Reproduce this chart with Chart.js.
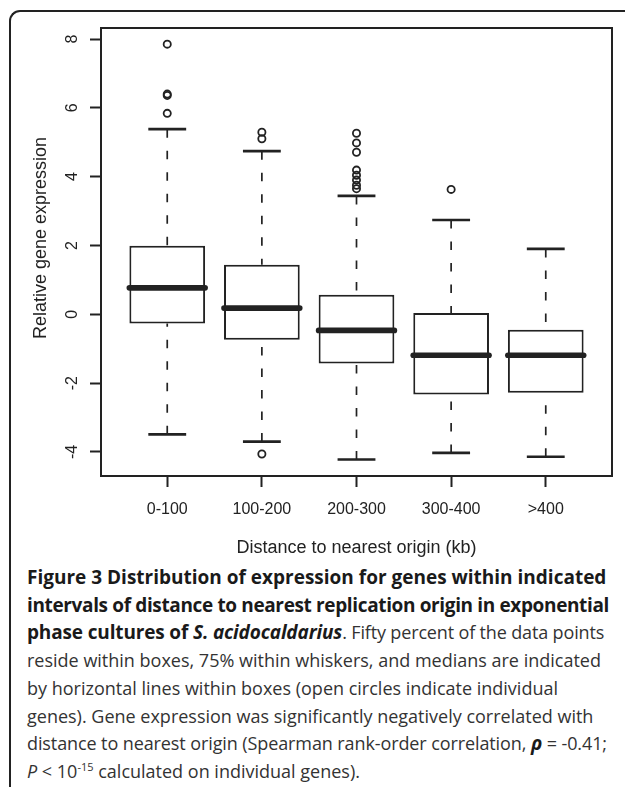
<!DOCTYPE html>
<html>
<head>
<meta charset="utf-8">
<script src="https://cdn.jsdelivr.net/npm/chart.js@4/dist/chart.umd.min.js"></script>
<style>
  html, body { margin: 0; padding: 0; background: #fff; }
  body { width: 625px; height: 787px; position: relative; overflow: hidden; }
  #card { position: absolute; left: 9px; top: 10px; width: 700px; height: 820px;
          border-left: 2px solid #222; border-top: 2px solid #222; border-top-left-radius: 11px; }
  #boxes { position: absolute; left: 0; top: 0; }
  #caption { position: absolute; left: 27px; top: 564px; width: 600px;
             font-family: "Open Sans", sans-serif; font-size: 18px; line-height: 27.7px;
             color: #333; white-space: nowrap; }
  #caption b { color: #1a1a1a; font-size: 19px; line-height: 1; }
  #caption sup { font-size: 11px; vertical-align: 7px; line-height: 0; }
</style>
</head>
<body>
<div id="card"></div>
<canvas id="boxes" width="625" height="560"></canvas>
<div id="caption">
<b>Figure 3 Distribution of expression for genes within indicated</b><br>
<b style="letter-spacing:-0.36px">intervals of distance to nearest replication origin in exponential</b><br>
<span style="letter-spacing:-0.15px"><b>phase cultures of <i>S. acidocaldarius</i></b>. Fifty percent of the data points</span><br>
reside within boxes, 75% within whiskers, and medians are indicated<br>
by horizontal lines within boxes (open circles indicate individual<br>
genes). Gene expression was significantly negatively correlated with<br>
<span style="letter-spacing:-0.1px">distance to nearest origin (Spearman rank-order correlation, <b><i>&rho;</i></b> = -0.41;</span><br>
<i>P</i> &lt; 10<sup>-15</sup> calculated on individual genes).
</div>
<script>
// values
var categories = ["0-100", "100-200", "200-300", "300-400", ">400"];
var lowWhisker = [-3.49, -3.70, -4.22, -4.03, -4.14];
var q1 = [-0.27, -0.74, -1.43, -2.33, -2.28];
var medians = [0.77, 0.18, -0.47, -1.19, -1.19];
var q3 = [1.99, 1.44, 0.57, 0.04, -0.45];
var highWhisker = [5.38, 4.74, 3.44, 2.74, 1.90];
var outliers = [
    [7.85, 6.40, 6.36, 5.84],
    [5.29, 5.10, -4.06],
    [5.26, 4.98, 4.71, 4.19, 4.04, 3.90, 3.75, 3.65],
    [3.63],
    []
];
var yTicks = [-4, -2, 0, 2, 4, 6, 8];

var ink = "#222";
var axisFont = "Liberation Sans, Arial, sans-serif";

var boxData = [];
for (let i = 0; i < categories.length; i++) {
    boxData.push({x: i + 1, y: [q1[i], q3[i]]});
}
var outlierData = [];
for (let i = 0; i < outliers.length; i++) {
    outliers[i].forEach(function(v) { outlierData.push({x: i + 1, y: v}); });
}

// whiskers, caps, medians, frame and y title
var boxExtras = {
    id: "boxExtras",
    afterDatasetsDraw: function(chart) {
        var ctx = chart.ctx;
        var xs = chart.scales.x, ys = chart.scales.y;
        var capHalf = xs.getPixelForValue(1.2) - xs.getPixelForValue(1);
        var meta = chart.getDatasetMeta(0);
        ctx.save();
        ctx.strokeStyle = ink;
        for (let i = 0; i < categories.length; i++) {
            var x = xs.getPixelForValue(i + 1);
            var half = meta.data[i].width / 2;
            // dashed whiskers, drawn from the cap toward the box
            ctx.setLineDash([8.5, 13]);
            ctx.lineWidth = 1.7;
            ctx.lineCap = "butt";
            ctx.beginPath();
            ctx.moveTo(x, ys.getPixelForValue(highWhisker[i]));
            ctx.lineTo(x, ys.getPixelForValue(q3[i]));
            ctx.moveTo(x, ys.getPixelForValue(lowWhisker[i]));
            ctx.lineTo(x, ys.getPixelForValue(q1[i]));
            ctx.stroke();
            ctx.setLineDash([]);
            // caps
            ctx.lineWidth = 2.7;
            ctx.beginPath();
            ctx.moveTo(x - capHalf, ys.getPixelForValue(highWhisker[i]));
            ctx.lineTo(x + capHalf, ys.getPixelForValue(highWhisker[i]));
            ctx.moveTo(x - capHalf, ys.getPixelForValue(lowWhisker[i]));
            ctx.lineTo(x + capHalf, ys.getPixelForValue(lowWhisker[i]));
            ctx.stroke();
            // median
            ctx.lineWidth = 5.7;
            ctx.lineCap = "round";
            ctx.beginPath();
            ctx.moveTo(x - half, ys.getPixelForValue(medians[i]));
            ctx.lineTo(x + half, ys.getPixelForValue(medians[i]));
            ctx.stroke();
        }
        // plot frame
        var a = chart.chartArea;
        ctx.lineCap = "butt";
        ctx.lineWidth = 2;
        ctx.strokeRect(a.left, a.top, a.right - a.left, a.bottom - a.top);
        // y title
        ctx.fillStyle = ink;
        ctx.font = "18px " + axisFont;
        ctx.textAlign = "center";
        ctx.textBaseline = "middle";
        ctx.translate(41, 238);
        ctx.rotate(-Math.PI / 2);
        ctx.fillText("Relative gene expression", 0, 0);
        ctx.restore();
    }
};

new Chart(document.getElementById("boxes"), {
    type: "scatter",
    data: {
        datasets: [{
            type: "bar",
            data: boxData,
            backgroundColor: "#fff",
            borderColor: ink,
            borderWidth: 2,
            borderSkipped: false,
            barPercentage: 0.8,
            categoryPercentage: 1
        }, {
            type: "scatter",
            data: outlierData,
            pointStyle: "circle",
            pointRadius: 3.6,
            borderWidth: 1.8,
            borderColor: ink,
            backgroundColor: "rgba(0,0,0,0)"
        }]
    },
    options: {
        responsive: false,
        animation: false,
        devicePixelRatio: 1,
        layout: { padding: { top: 28, right: 13, left: 0, bottom: 0 } },
        plugins: { legend: { display: false }, tooltip: { enabled: false } },
        scales: {
            x: {
                type: "linear",
                min: 0.3,
                max: 5.7,
                offset: false,
                afterBuildTicks: function(s) {
                    s.ticks = categories.map(function(c, i) { return {value: i + 1}; });
                },
                afterFit: function(s) { s.height = 84; },
                ticks: {
                    callback: function(v, i) { return categories[i]; },
                    font: { family: axisFont, size: 16 },
                    color: ink,
                    padding: 13,
                    maxRotation: 0,
                    autoSkip: false
                },
                grid: { drawOnChartArea: false, drawTicks: true, tickLength: 11, tickWidth: 2, tickColor: ink, offset: false },
                border: { display: false },
                title: {
                    display: true,
                    text: "Distance to nearest origin (kb)",
                    font: { family: axisFont, size: 18 },
                    color: ink,
                    padding: { top: 0, bottom: 1 }
                }
            },
            y: {
                type: "linear",
                min: -4.70,
                max: 8.32,
                afterBuildTicks: function(s) {
                    s.ticks = yTicks.map(function(v) { return {value: v}; });
                },
                afterFit: function(s) { s.width = 101; },
                ticks: {
                    font: { family: axisFont, size: 16 },
                    color: ink,
                    minRotation: 90,
                    maxRotation: 90,
                    crossAlign: "center",
                    padding: 10
                },
                grid: { drawOnChartArea: false, drawTicks: true, tickLength: 11, tickWidth: 2, tickColor: ink },
                border: { display: false }
            }
        }
    },
    plugins: [boxExtras]
});
</script>
</body>
</html>
